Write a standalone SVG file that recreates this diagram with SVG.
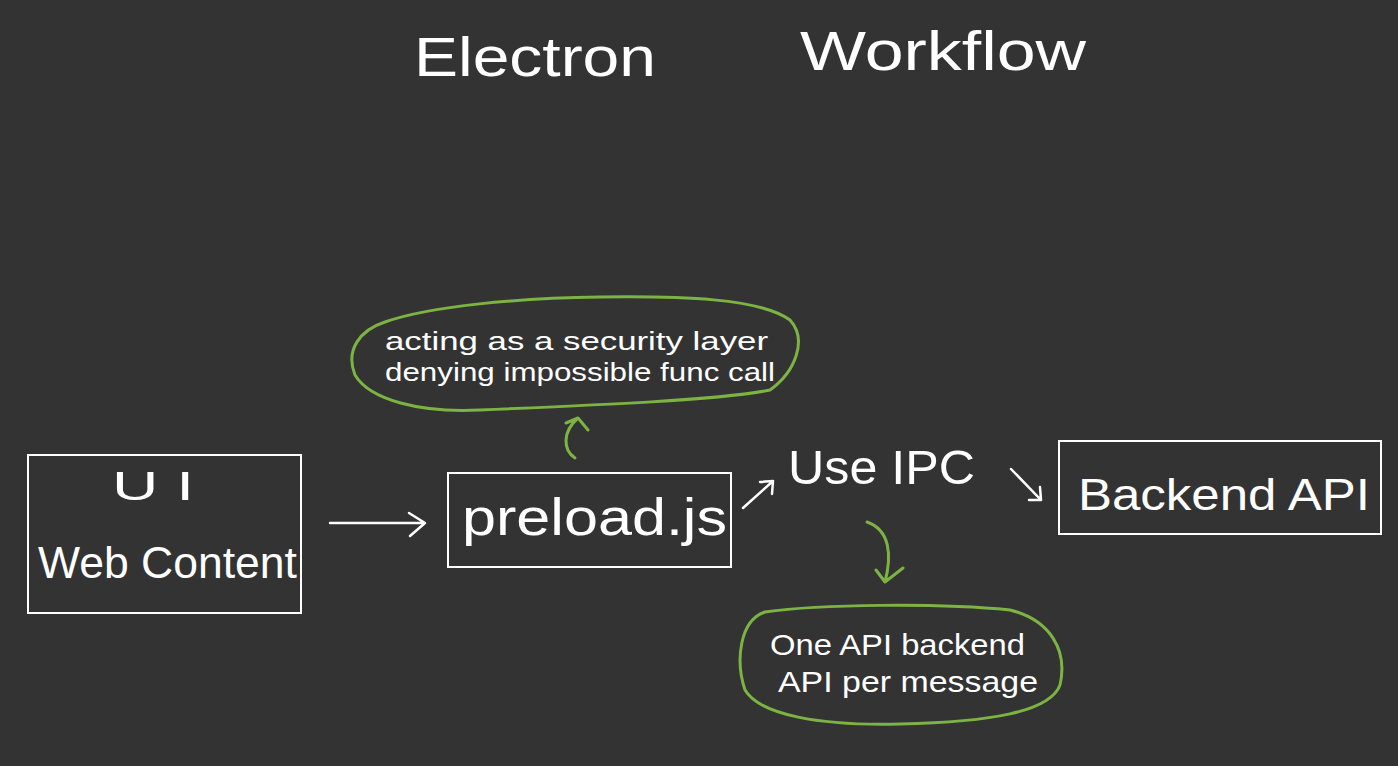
<svg xmlns="http://www.w3.org/2000/svg" width="1398" height="766" viewBox="0 0 1398 766">
<defs>
<style>
.bg{fill:#333333}
.box{fill:none;stroke:#ffffff;stroke-width:2}
.t{fill:#ffffff;font-family:"Liberation Sans","DejaVu Sans",sans-serif}
.w{fill:none;stroke:#ffffff;stroke-width:2.5;stroke-linecap:round;stroke-linejoin:round}
.g{fill:none;stroke:#7cb342;stroke-width:3;stroke-linecap:round;stroke-linejoin:round}
</style>
</defs>
<rect class="bg" x="0" y="0" width="1398" height="766"/>
<g id="title">
<text class="t" x="414" y="76" font-size="56" textLength="242" lengthAdjust="spacingAndGlyphs">Electron</text>
<text class="t" x="800" y="70" font-size="56" textLength="286" lengthAdjust="spacingAndGlyphs">Workflow</text>
</g>
<g id="ui">
<rect class="box" x="28" y="455" width="273" height="158"/>
<text class="t" x="112" y="500" font-size="40" textLength="82" lengthAdjust="spacingAndGlyphs">U I</text>
<text class="t" x="38" y="578" font-size="44" textLength="259" lengthAdjust="spacingAndGlyphs">Web Content</text>
</g>
<g id="preload">
<rect class="box" x="448" y="473" width="283" height="94"/>
<text class="t" x="462" y="535" font-size="52" textLength="265" lengthAdjust="spacingAndGlyphs">preload.js</text>
</g>
<g id="ipc">
<text class="t" x="788" y="484" font-size="48" textLength="187" lengthAdjust="spacingAndGlyphs">Use IPC</text>
</g>
<g id="backend">
<rect class="box" x="1059" y="441" width="322" height="93"/>
<text class="t" x="1078" y="510" font-size="44" textLength="292" lengthAdjust="spacingAndGlyphs">Backend API</text>
</g>
<g id="security-note">
<path class="g" d="M385,322 C430,306 520,298 600,297 C680,296 760,298 790,320 C808,340 795,372 770,390 C720,400 600,405 480,410 C420,413 370,400 355,375 C345,350 360,330 385,322"/>
<text class="t" x="385" y="350" font-size="26" textLength="383" lengthAdjust="spacingAndGlyphs">acting as a security layer</text>
<text class="t" x="385" y="381" font-size="26" textLength="390" lengthAdjust="spacingAndGlyphs">denying impossible func call</text>
</g>
<g id="message-note">
<path class="g" d="M765,612 C820,604 940,603 1010,610 C1050,620 1068,650 1060,685 C1050,712 990,722 900,724 C820,726 760,715 745,690 C735,660 740,620 765,612"/>
<text class="t" x="770" y="655" font-size="30" textLength="255" lengthAdjust="spacingAndGlyphs">One API backend</text>
<text class="t" x="778" y="692" font-size="30" textLength="260" lengthAdjust="spacingAndGlyphs">API per message</text>
</g>
<g id="connectors">
<path class="w" d="M330,523 L425,523 M409,513 L425,523 L410,536"/>
<path class="w" d="M743,508 L773,481 M760,482 L773,481 L772,494"/>
<path class="w" d="M1011,469 L1041,500 M1029,500 L1041,500 L1040,487"/>
<path class="g" d="M575,458 C563,450 562,432 578,418 M566,423 L578,418 L588,430"/>
<path class="g" d="M867,522 C890,530 892,555 885,582 M876,570 L885,582 L903,568"/>
</g>
</svg>
